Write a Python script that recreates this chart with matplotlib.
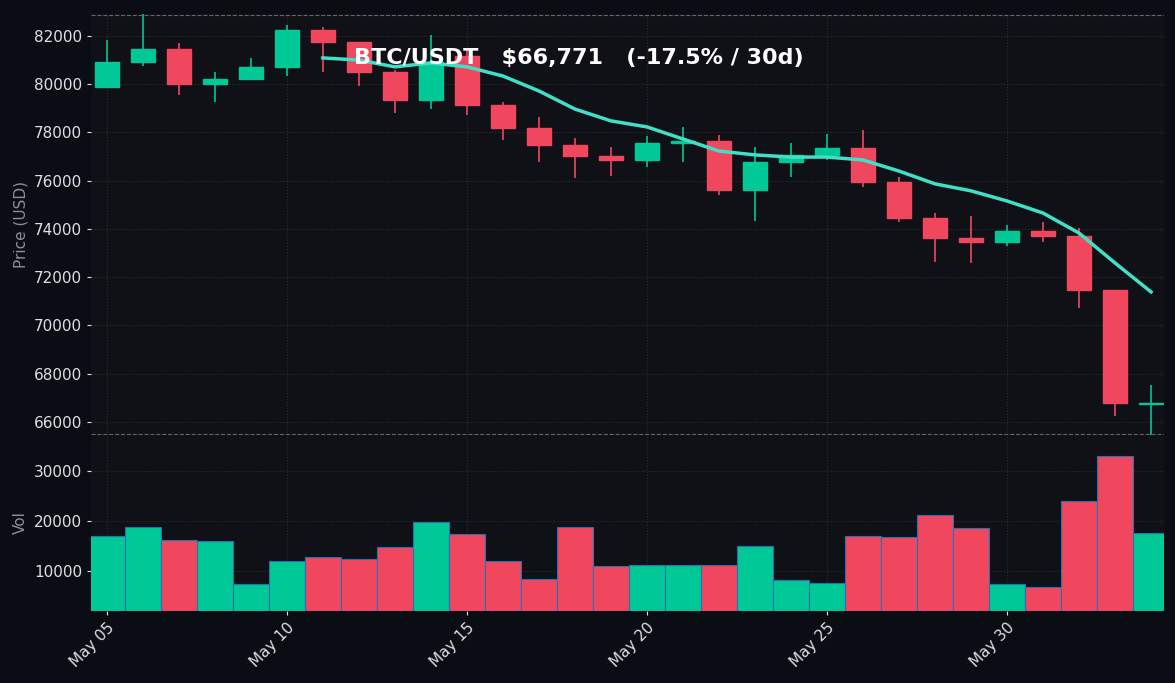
import matplotlib
matplotlib.use("Agg")
import matplotlib.pyplot as plt
import numpy as np
import pandas as pd

dates = pd.date_range("2025-05-05", periods=30, freq="D")
opens  = [79890,80920,81460,80010,80220,80720,82250,81750,80510,79350,81170,79140,78190,77480,77030,76860,77560,77650,75620,76780,77070,77360,75950,74460,73630,73460,73920,73710,71470,66760]
closes = [80920,81460,80010,80220,80720,82250,81750,80510,79350,80920,79140,78190,77480,77030,76860,77560,77650,75620,76780,77070,77360,75950,74460,73630,73460,73920,73710,71470,66790,66771]
highs  = [81830,82900,81710,80510,81090,82460,82370,81750,80590,82040,81500,79260,78640,77770,77400,77850,78230,77900,77400,77560,77940,78100,76150,74660,74540,74170,74290,74040,71470,67530]
lows   = [79890,80760,79550,79260,80180,80340,80510,79930,78800,78970,78730,77690,76780,76110,76200,76570,76780,75410,74330,76150,76860,75740,74290,72630,72590,73300,73460,70720,66250,65460]
ma     = [None]*6 + [81090,81000,80720,80880,80720,80340,79720,78970,78480,78230,77730,77230,77070,76980,76980,76860,76400,75870,75580,75160,74660,73830,72590,71390]
volume = [17000,18800,16200,16000,7400,12000,12800,12400,14800,19800,17400,12000,8400,18800,11000,11200,11200,11200,15000,8200,7600,17000,16800,21200,18600,7400,6800,24000,33000,17600]
up_flags = [1,1,0,1,1,1,0,0,0,1,0,0,0,0,0,1,1,0,1,1,1,0,0,0,0,1,0,0,0,1]

GREEN, RED = "#00c896", "#f0475f"
fig = plt.figure(figsize=(11.75, 6.83), dpi=100, facecolor="#0a0d14")
ax = fig.add_axes([91/1175, 1-435/683, (1164-91)/1175, 421/683])
av = fig.add_axes([91/1175, 1-611/683, (1164-91)/1175, 176/683], sharex=ax)
x = np.arange(30)
for a in (ax, av):
    a.set_facecolor("#0f1116")
    a.set_axisbelow(True)
    a.grid(True, color="#2a2d35", linestyle=":", linewidth=0.8)
    for s in a.spines.values():
        s.set_visible(False)
    a.tick_params(colors="#e0e0e0", labelsize=11, length=3)

for i in x:
    c = GREEN if up_flags[i] else RED
    ax.vlines(i, lows[i], highs[i], color=c, linewidth=1.2)
    lo, hi = min(opens[i], closes[i]), max(opens[i], closes[i])
    ax.bar(i, max(hi-lo, 40), bottom=lo, width=0.65, color=c, edgecolor=c)
ma_x = [i for i in x if ma[i] is not None]
ax.plot(ma_x, [ma[i] for i in ma_x], color="#3fe0c5", linewidth=2.5)
ax.set_ylim(65460, 82910)
ax.set_xlim(-0.44, 29.36)
ax.axhline(82880, color="#666", linestyle="--", linewidth=0.8)
ax.axhline(65500, color="#666", linestyle="--", linewidth=0.8)
ax.set_ylabel("Price (USD)", color="#8a8f99", fontsize=11)
ax.text(0.245, 0.895, "BTC/USDT   $66,771   (-17.5% / 30d)", transform=ax.transAxes,
        color="white", fontsize=16, fontweight="bold", va="center")
plt.setp(ax.get_xticklabels(), visible=False)

av.bar(x, np.array(volume)-2000, bottom=2000, width=1.0,
       color=[GREEN if u else RED for u in up_flags], edgecolor="#2a6fb0", linewidth=0.8)
av.set_ylim(2000, 37200)
av.set_yticks([10000, 20000, 30000])
av.set_ylabel("Vol", color="#8a8f99", fontsize=11)
ticks = [0, 5, 10, 15, 20, 25]
av.set_xticks(ticks)
av.set_xticklabels([dates[i].strftime("%b %d") for i in ticks], rotation=45, ha="right", rotation_mode="anchor")
fig.savefig("out.png", dpi=100, facecolor=fig.get_facecolor())
